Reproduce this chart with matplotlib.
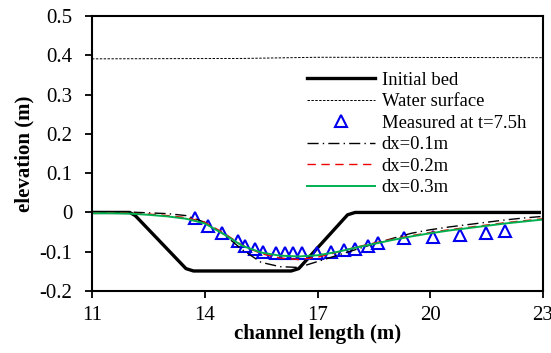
import numpy as np
import matplotlib
matplotlib.use("Agg")
import matplotlib.pyplot as plt

plt.rcParams['font.family'] = ['Liberation Serif', 'DejaVu Serif']

# ------------------------------------------------------------------
# data
# ------------------------------------------------------------------
bed_x = [11, 12.0, 12.15, 13.5, 13.7, 16.3, 16.5, 17.8, 18.0, 22.9]
bed_y = [0, 0, -0.008, -0.143, -0.149, -0.149, -0.143, -0.006, 0, 0]

water_x = [11, 15, 17, 23]
water_y = [0.391, 0.392, 0.395, 0.394]

meas_x = [13.74, 14.09, 14.47, 14.89, 15.07, 15.34, 15.56, 15.89, 16.13, 16.35,
          16.60, 16.99, 17.37, 17.71, 18.00, 18.35, 18.62, 19.31, 20.06, 20.79,
          21.48, 21.98]
meas_y = [-0.013, -0.034, -0.052, -0.072, -0.085, -0.094, -0.101, -0.103, -0.103, -0.103,
          -0.103, -0.102, -0.100, -0.096, -0.092, -0.086, -0.079, -0.066, -0.062, -0.058,
          -0.052, -0.047]

sim_x = [11, 11.5, 12, 12.5, 13, 13.5, 14, 14.5, 15, 15.5, 16, 16.5, 17,
         17.5, 18, 18.5, 19, 19.5, 20, 20.5, 21, 21.5, 22, 22.5, 23]
dx01 = [0.002, 0.002, 0.001, -0.001, -0.003, -0.008, -0.025, -0.055, -0.095, -0.127,
        -0.138, -0.140, -0.125, -0.110, -0.095, -0.080, -0.066, -0.053, -0.044, -0.037,
        -0.031, -0.025, -0.019, -0.014, -0.010]
dx02 = [-0.001, -0.001, -0.002, -0.004, -0.008, -0.013, -0.025, -0.052, -0.084, -0.105,
        -0.116, -0.120, -0.114, -0.102, -0.089, -0.078, -0.068, -0.059, -0.051, -0.044,
        -0.038, -0.032, -0.026, -0.021, -0.016]
dx03 = [-0.002, -0.002, -0.003, -0.006, -0.010, -0.016, -0.028, -0.055, -0.085, -0.102,
        -0.110, -0.112, -0.109, -0.101, -0.090, -0.080, -0.070, -0.061, -0.053, -0.046,
        -0.040, -0.034, -0.028, -0.023, -0.018]

xticks = [11, 14, 17, 20, 23]
yticks = [-0.2, -0.1, 0, 0.1, 0.2, 0.3, 0.4, 0.5]
ytick_labels = ['-0.2', '-0.1', '0', '0.1', '0.2', '0.3', '0.4', '0.5']

# ------------------------------------------------------------------
# plot
# ------------------------------------------------------------------
fig = plt.figure(figsize=(5.51, 3.53), dpi=100)
ax = fig.add_axes([0.167, 0.1756, 0.8185, 0.779])

ax.plot(bed_x, bed_y, color='black', lw=2.4, solid_joinstyle='round',
        label='Initial bed')
ax.plot(water_x, water_y, color='black', lw=0.7, ls=(0, (2.5, 1.5)),
        label='Water surface')
ax.plot(meas_x, meas_y, ls='none', marker='^', ms=8, mfc='none', mec='#0000ee',
        mew=1.5, label='Measured at t=7.5h')
ax.plot(sim_x, dx01, color='black', lw=1.0, ls=(0, (8, 3, 1, 3)),
        label='dx=0.1m')
ax.plot(sim_x, dx02, color='#ee0000', lw=1.0, ls=(0, (6, 4)),
        label='dx=0.2m')
ax.plot(sim_x, dx03, color='#00b050', lw=1.4, label='dx=0.3m')

ax.set_xlim(11, 23)
ax.set_ylim(-0.2, 0.5)
ax.set_xticks(xticks)
ax.set_yticks(yticks)
ax.set_yticklabels(ytick_labels)
ax.tick_params(direction='out', length=5, width=1.3, labelsize=15)
ax.tick_params(axis='y', pad=9)
ax.tick_params(axis='x', pad=6)

for s in ax.spines.values():
    s.set_linewidth(1.5)

ax.set_xlabel('channel length (m)', fontsize=15, fontweight='bold', labelpad=-1)
ax.set_ylabel('elevation (m)', fontsize=15, fontweight='bold', labelpad=4)

ax.legend(loc='upper left', bbox_to_anchor=(0.476, 0.798), frameon=False,
          fontsize=13.4, handlelength=3.66, handletextpad=0.36,
          labelspacing=0.24, borderaxespad=0, borderpad=0)

fig.savefig('out.png', dpi=100)
